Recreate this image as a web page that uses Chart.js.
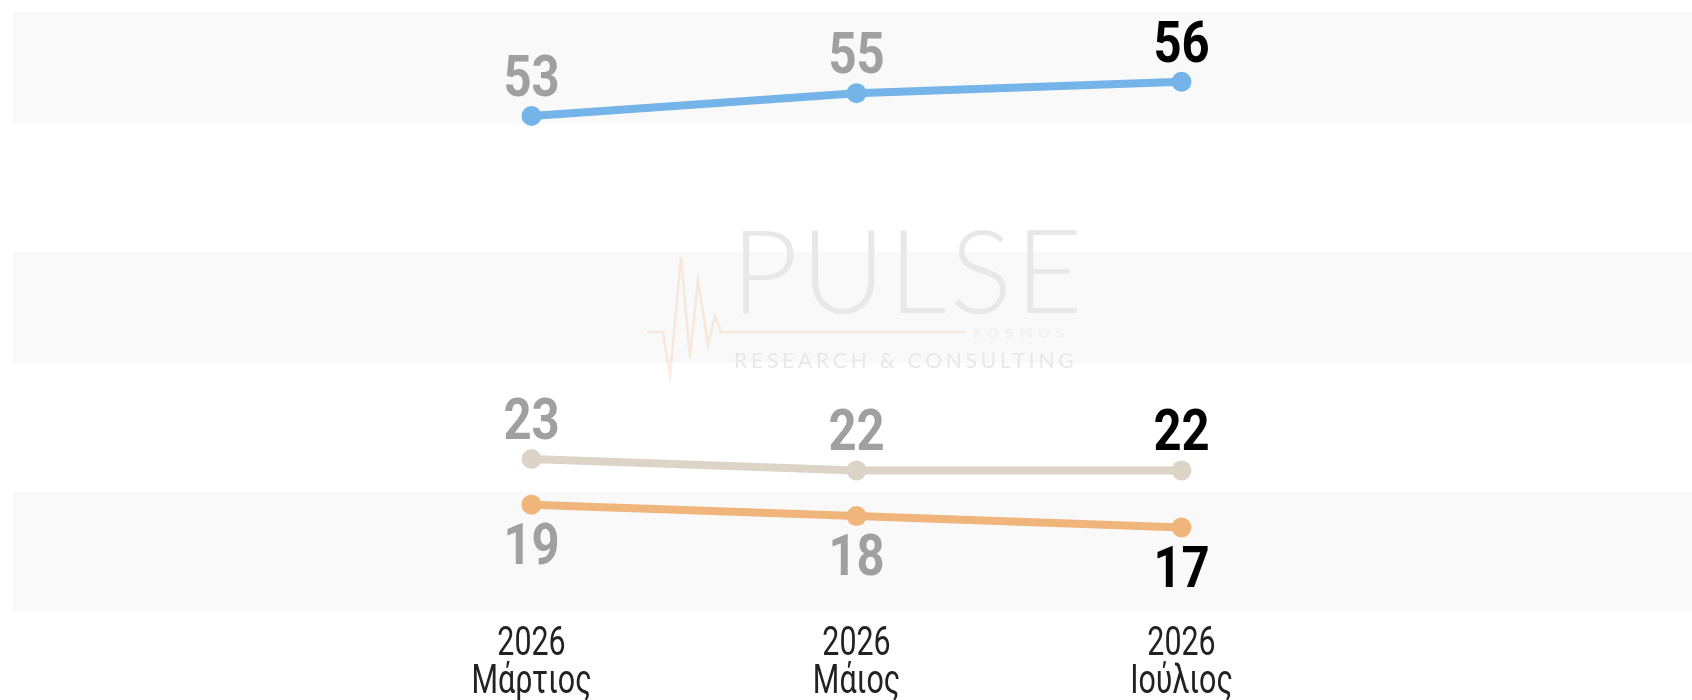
<!DOCTYPE html>
<html>
<head>
<meta charset="utf-8">
<script src="https://cdn.jsdelivr.net/npm/chart.js@4"></script>
<style>
  html, body { margin: 0; padding: 0; background: #fff; }
  #wrap { width: 1692px; height: 700px; }
</style>
</head>
<body>
<div id="wrap"><canvas id="chart" width="1692" height="700"></canvas></div>
<script>
// data
const months = [['2026', 'Μάρτιος'], ['2026', 'Μάιος'], ['2026', 'Ιούλιος']];
const blueSeries = [53, 55, 56];
const beigeSeries = [23, 22, 22];
const orangeSeries = [19, 18, 17];

// no condensed face is installed, so Roboto is squeezed sideways instead
function narrowText(ctx, text, x, y, squeeze) {
    ctx.save();
    ctx.translate(x, y);
    ctx.scale(squeeze, 1);
    ctx.fillText(text, 0, 0);
    ctx.restore();
}

// light grey stripes behind the chart (in y-axis units)
const stripes = {
    id: 'stripes',
    beforeDraw(chart) {
        const ctx = chart.ctx;
        const y = chart.scales.y;
        const bands = [[52.4, 62.1], [31.4, 41.1], [9.7, 20.1]];
        ctx.save();
        ctx.fillStyle = '#f9f9f9';
        bands.forEach(b => {
            const top = y.getPixelForValue(b[1]);
            const bottom = y.getPixelForValue(b[0]);
            ctx.fillRect(13, top, chart.width - 13, bottom - top);
        });
        ctx.restore();
    }
};

// faint PULSE watermark
const watermark = {
    id: 'watermark',
    beforeDatasetsDraw(chart) {
        const ctx = chart.ctx;
        ctx.save();
        // heartbeat line
        ctx.strokeStyle = 'rgba(240, 190, 140, 0.28)';
        ctx.lineWidth = 2.5;
        ctx.beginPath();
        ctx.moveTo(647, 332);
        ctx.lineTo(663, 332);
        ctx.lineTo(670, 375);
        ctx.lineTo(681, 257);
        ctx.lineTo(690, 358);
        ctx.lineTo(698, 280);
        ctx.lineTo(708, 345);
        ctx.lineTo(715, 316);
        ctx.lineTo(721, 332);
        ctx.lineTo(966, 332);
        ctx.stroke();

        ctx.fillStyle = '#e8e8e8';
        ctx.textBaseline = 'alphabetic';
        ctx.textAlign = 'left';
        ctx.font = '300 116px Lato, "DejaVu Sans", sans-serif';
        ctx.letterSpacing = '3px';
        ctx.fillText('PULSE', 731, 313);
        ctx.font = '400 21px Lato, "DejaVu Sans", sans-serif';
        ctx.letterSpacing = '3.8px';
        ctx.fillText('RESEARCH & CONSULTING', 734, 368);
        ctx.font = 'bold 14px "DejaVu Sans", sans-serif';
        ctx.letterSpacing = '5px';
        ctx.fillStyle = '#f2f2f2';
        ctx.fillText('KOSMOS', 972, 338);
        ctx.restore();
    }
};

// month labels under the axis, two lines each
const monthLabels = {
    id: 'monthLabels',
    afterDraw(chart) {
        const ctx = chart.ctx;
        const x = chart.scales.x;
        ctx.save();
        ctx.font = '40px Roboto, sans-serif';
        ctx.fillStyle = '#222222';
        ctx.textAlign = 'center';
        ctx.textBaseline = 'alphabetic';
        months.forEach((lines, i) => {
            const px = x.getPixelForValue(i);
            lines.forEach((t, k) => narrowText(ctx, t, px, 655 + k * 38, 0.76));
        });
        ctx.restore();
    }
};

// value labels: grey for earlier waves, black for the latest
const valueLabels = {
    id: 'valueLabels',
    afterDatasetsDraw(chart) {
        const ctx = chart.ctx;
        ctx.save();
        ctx.font = 'bold 57px Roboto, sans-serif';
        ctx.textAlign = 'center';
        ctx.textBaseline = 'alphabetic';
        chart.data.datasets.forEach((ds, i) => {
            const meta = chart.getDatasetMeta(i);
            meta.data.forEach((pt, j) => {
                const last = j === ds.data.length - 1;
                ctx.fillStyle = last ? '#000000' : '#a0a0a0';
                const y = ds.labelPos === 'below' ? pt.y + 18 + 41 : pt.y - 20;
                narrowText(ctx, String(ds.data[j]), pt.x, y, 0.86);
            });
        });
        ctx.restore();
    }
};

function series(data, color, labelPos) {
    return {
        data: data,
        borderColor: color,
        backgroundColor: color,
        borderWidth: 8,
        pointRadius: 10,
        pointHoverRadius: 10,
        pointBorderWidth: 0,
        tension: 0,
        clip: false,
        labelPos: labelPos
    };
}

const ctx = document.getElementById('chart').getContext('2d');
new Chart(ctx, {
    type: 'line',
    data: {
        labels: months,
        datasets: [
            series(blueSeries, '#74b4e8', 'above'),
            series(beigeSeries, '#dcd4c7', 'above'),
            series(orangeSeries, '#efb57b', 'below')
        ]
    },
    options: {
        responsive: false,
        animation: false,
        devicePixelRatio: 1,
        layout: { padding: { left: 369, right: 348, top: 12, bottom: 89 } },
        plugins: {
            legend: { display: false },
            tooltip: { enabled: false }
        },
        scales: {
            x: {
                display: false,
                offset: true
            },
            y: {
                display: false,
                min: 9.7,
                max: 62.1
            }
        }
    },
    plugins: [stripes, watermark, valueLabels, monthLabels]
});
</script>
</body>
</html>
